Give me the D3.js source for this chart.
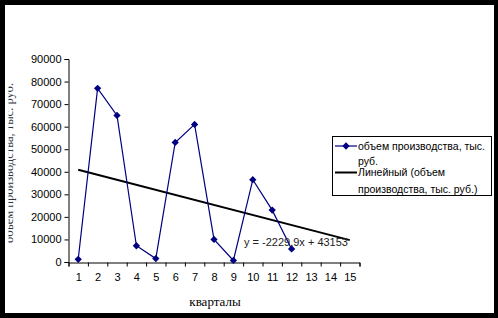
<html>
  <head>
    <script src="https://d3js.org/d3.v7.min.js"></script>
    <style>
      body { margin: 0; }
      text { font-family: "Liberation Sans", Arial, sans-serif; }
    </style>
  </head>
  <body>
    <div id='wrapper'></div>
    <script>
      // values
      var quarters = d3.range(1, 16);
      var volume = [1200, 77000, 65000, 7200, 1500, 53000, 61000, 10000, 700, 36500, 23000, 5800];
      var yTicks = [0, 10000, 20000, 30000, 40000, 50000, 60000, 70000, 80000, 90000];
      var trendSlope = -2229.9;
      var trendIntercept = 43153;
      var trendRange = [1, 15];
      var legendLabels = [["объем производства, тыс.", "руб."], ["Линейный (объем", "производства, тыс. руб.)"]];

      var W = 498, H = 318;
      var svg = d3.select("#wrapper").append("svg")
        .attr("width", W).attr("height", H);

      // black frame
      svg.append("rect").attr("width", W).attr("height", H).attr("fill", "#000");
      svg.append("rect").attr("x", 5).attr("y", 5).attr("width", 489).attr("height", 308).attr("fill", "#fff");

      var xScale = d3.scaleLinear().domain([0.5, 15.5]).range([68.5, 359.5]);
      var yScale = d3.scaleLinear().domain([0, 90000]).range([262, 59]);

      // y axis
      var yAxis = d3.axisLeft(yScale).tickValues(yTicks).tickSize(4).tickPadding(3).tickFormat(d3.format("d"));
      var gy = svg.append("g").attr("transform", "translate(68.5,0)").call(yAxis);
      gy.select(".domain").attr("stroke", "#000");
      gy.selectAll("text").attr("font-size", 11).attr("fill", "#000")
        .attr("font-family", "Liberation Sans, Arial, sans-serif");

      // x axis ticks at category boundaries
      var xAxis = d3.axisBottom(xScale).tickValues(d3.range(0.5, 16, 1)).tickSize(4).tickFormat("");
      var gx = svg.append("g").attr("transform", "translate(0,262.5)").call(xAxis);
      gx.select(".domain").attr("stroke", "#000");
      var xLabels = d3.axisBottom(xScale).tickValues(quarters).tickSize(0).tickPadding(11);
      var gxl = svg.append("g").attr("transform", "translate(0,262.5)").call(xLabels);
      gxl.select(".domain").remove();
      gxl.selectAll("text").attr("font-size", 11).attr("fill", "#000")
        .attr("font-family", "Liberation Sans, Arial, sans-serif");

      // axis titles
      svg.append("text")
        .attr("x", 215).attr("y", 306)
        .attr("text-anchor", "middle")
        .style("font-family", "Liberation Serif, Times New Roman, serif")
        .attr("font-size", 13)
        .text("кварталы");

      // y title is mostly cut off in the original
      svg.append("clipPath").attr("id", "yclip")
        .append("rect").attr("x", 8.5).attr("y", 5).attr("width", 40).attr("height", 300);
      svg.append("g").attr("clip-path", "url(#yclip)")
        .append("text")
        .attr("transform", "translate(12.5,163) rotate(-90)")
        .attr("text-anchor", "middle")
        .style("font-family", "Liberation Serif, Times New Roman, serif")
        .attr("font-size", 12.5)
        .attr("fill", "#333")
        .text("объем производства, тыс. руб.");

      // trend line
      var trend = trendRange.map(function(q) { return { q: q, v: trendSlope * q + trendIntercept }; });
      svg.append("line")
        .attr("x1", xScale(trend[0].q)).attr("y1", yScale(trend[0].v))
        .attr("x2", xScale(trend[1].q)).attr("y2", yScale(trend[1].v))
        .attr("stroke", "#000").attr("stroke-width", 2);

      // data series
      var line = d3.line()
        .x(function(d, i) { return xScale(quarters[i]); })
        .y(function(d) { return yScale(d); });
      svg.append("path").datum(volume)
        .attr("d", line)
        .attr("fill", "none").attr("stroke", "#000080").attr("stroke-width", 1.2);

      var diamond = d3.symbol().type(d3.symbolDiamond2).size(34);
      svg.selectAll(".pt").data(volume).enter().append("path")
        .attr("class", "pt")
        .attr("transform", function(d, i) { return "translate(" + xScale(quarters[i]) + "," + yScale(d) + ")"; })
        .attr("d", diamond)
        .attr("fill", "#000080");

      // equation label
      svg.append("text")
        .attr("x", 244).attr("y", 246)
        .attr("font-size", 11).attr("fill", "#222")
        .text("y = " + String(trendSlope).replace(".", ",") + "x + " + trendIntercept);

      // legend
      var lg = svg.append("g");
      lg.append("rect").attr("x", 332.5).attr("y", 136.5).attr("width", 159).attr("height", 59)
        .attr("fill", "#fff").attr("stroke", "#000");
      lg.append("line").attr("x1", 335).attr("x2", 357).attr("y1", 146).attr("y2", 146)
        .attr("stroke", "#000080").attr("stroke-width", 1.2);
      lg.append("path").attr("transform", "translate(346,146)").attr("d", diamond).attr("fill", "#000080");
      lg.append("line").attr("x1", 335).attr("x2", 357).attr("y1", 172.5).attr("y2", 172.5)
        .attr("stroke", "#000").attr("stroke-width", 2);
      var rowsY = [[149.5, 165], [176, 193]];
      legendLabels.forEach(function(lines, i) {
        lines.forEach(function(t, j) {
          lg.append("text").attr("x", 358).attr("y", rowsY[i][j])
            .attr("font-size", 10.5).text(t);
        });
      });
    </script>
  </body>
</html>
